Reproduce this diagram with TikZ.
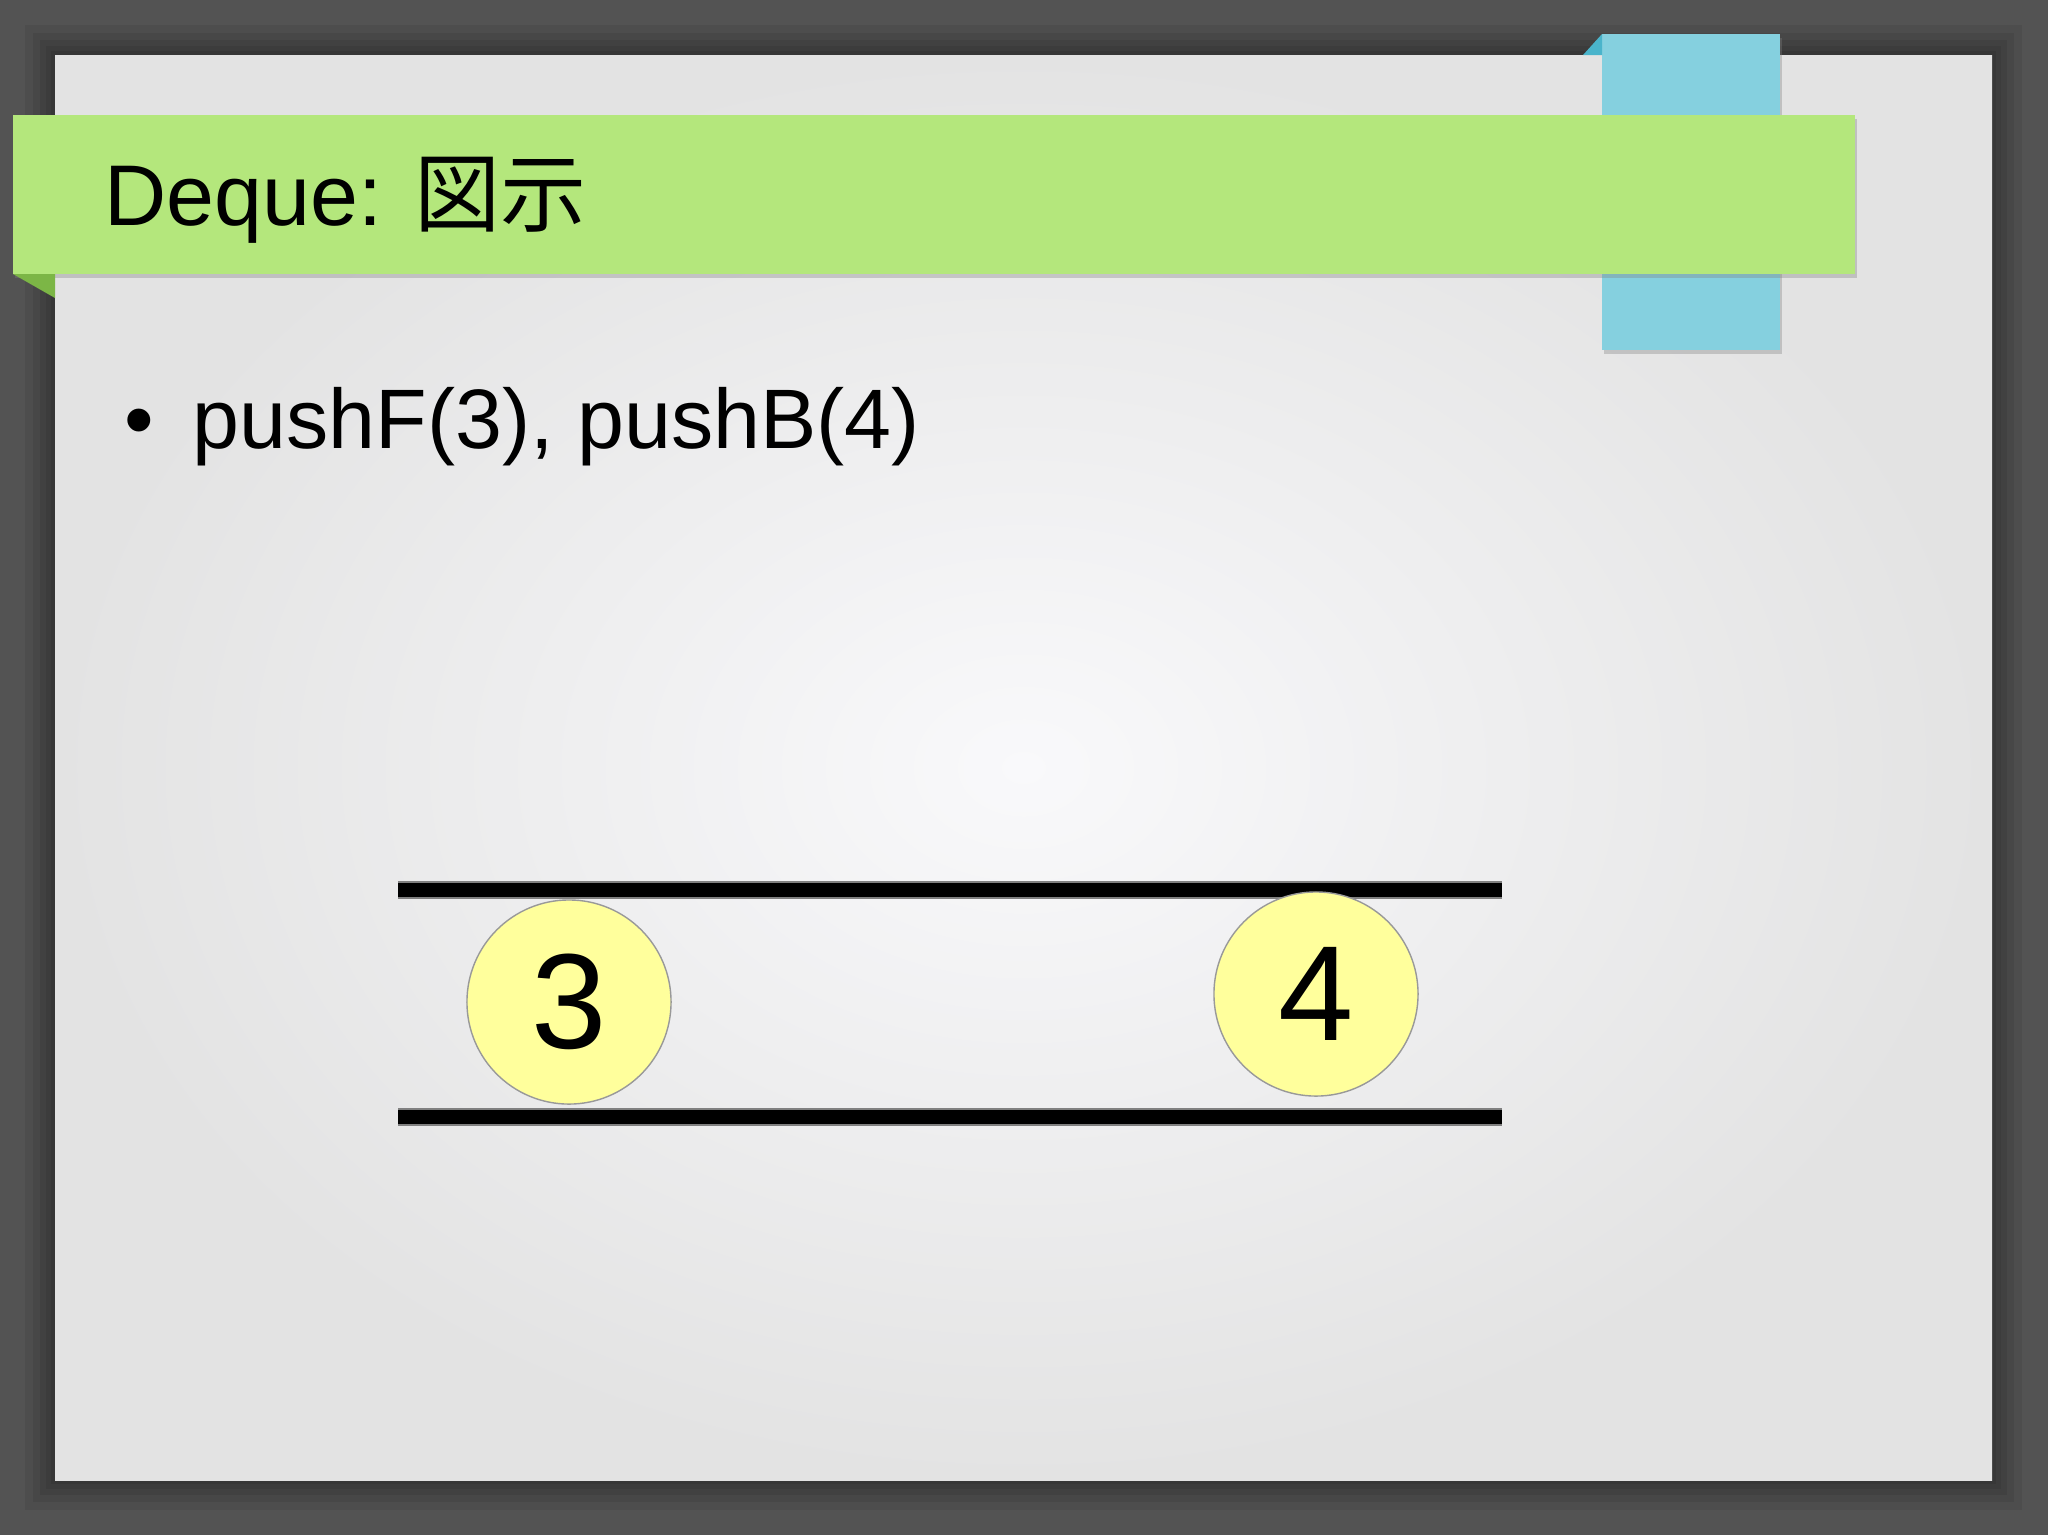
\documentclass[tikz,border=0pt]{standalone}
\usepackage{fontspec}
\setmainfont{Liberation Sans}
\newfontfamily\jpfont{Noto Sans CJK JP}
\usepackage{tikz}
\usetikzlibrary{shadows}

\definecolor{slidebg}{HTML}{535353}
\definecolor{panelin}{HTML}{F9F9FB}
\definecolor{panelout}{HTML}{E3E3E3}
\definecolor{bannergreen}{HTML}{B4E77C}
\definecolor{bannerfold}{HTML}{7CB646}
\definecolor{tabblue}{HTML}{85D0DF}
\definecolor{tabfold}{HTML}{4AB4CB}
\definecolor{ballyellow}{HTML}{FFFF9C}

\begin{document}
\begin{tikzpicture}[x=0.01cm,y=-0.01cm,
    every circle node/.style={draw=gray!80,fill=ballyellow,line width=0.4pt,minimum size=2.04cm,inner sep=0pt,font=\fontsize{38.5}{40}\selectfont},
    rail/.style={draw=gray,line width=0.6pt,double=black,double distance=3.8pt},
    tabshadow/.style={drop shadow={shadow xshift=0.6pt,shadow yshift=-1.2pt,opacity=0.35}}]
    \fill[slidebg] (0,0) rectangle (2048,1535);
    \useasboundingbox (0,0) rectangle (2048,1535);
    \foreach \d in {30,22,15,9,4}
        \fill[black,opacity=0.07] (55-\d,55-\d) rectangle (1992+\d,1480+\d);
    \shade[inner color=panelin,outer color=panelout] (55,55) rectangle (1992,1480);
    \fill[tabblue,tabshadow] (1602,34) rectangle (1780,350);
    \fill[tabfold] (1583,55) -- (1602,34) -- (1602,55) -- cycle;
    \fill[bannergreen,tabshadow] (13,115) rectangle (1855,274);
    \fill[bannerfold] (13,274) -- (55,274) -- (55,298) -- cycle;
    \node[anchor=base west,inner sep=0pt,font=\fontsize{24.5}{30}\selectfont] (title) at (104,225) {Deque: {\jpfont 図示}};
    \node[anchor=base west,inner sep=0pt,font=\fontsize{24}{29}\selectfont] (dot) at (124,448) {\textbullet};
    \node[anchor=base west,inner sep=0pt,font=\fontsize{24}{29}\selectfont] (push) at (192,448) {pushF(3), pushB(4)};
    \coordinate (topL) at (398,890);
    \coordinate (topR) at (1502,890);
    \coordinate (botL) at (398,1117);
    \coordinate (botR) at (1502,1117);
    \draw[rail] (topL) -- (topR);
    \draw[rail] (botL) -- (botR);
    \node[circle] (three) at (569,1002) {3};
    \node[circle] (four) at (1316,994) {4};
\end{tikzpicture}
\end{document}
